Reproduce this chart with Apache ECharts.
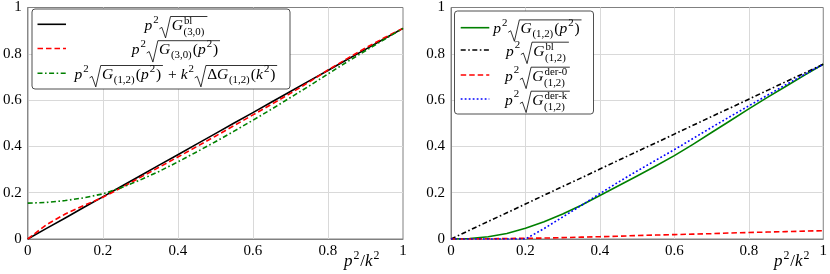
<!DOCTYPE html>
<html><head><meta charset="utf-8">
<script src="https://cdn.jsdelivr.net/npm/echarts@6/dist/echarts.min.js"></script>
<style>html,body{margin:0;padding:0;background:#fff}#c{width:830px;height:274px}</style>
</head><body><div id="c"></div>
<script>
// ---------------- data ----------------
const xs = [0,0.05,0.1,0.15,0.2,0.25,0.3,0.35,0.4,0.45,0.5,0.55,0.6,0.65,0.7,0.75,0.8,0.85,0.9,0.95,1];
const tickLabels = ['0','0.2','0.4','0.6','0.8','1'];
// left panel
const leftBl30   = [0,0.046,0.091,0.137,0.182,0.228,0.273,0.319,0.364,0.41,0.455,0.501,0.546,0.592,0.637,0.683,0.728,0.774,0.819,0.865,0.91];
const leftG30    = [0,0.062,0.108,0.145,0.18,0.222,0.266,0.31,0.354,0.399,0.444,0.49,0.536,0.582,0.629,0.678,0.73,0.778,0.825,0.869,0.91];
const leftG12Sum = [0.155,0.158,0.166,0.178,0.195,0.222,0.255,0.292,0.333,0.376,0.42,0.466,0.513,0.561,0.611,0.661,0.713,0.764,0.813,0.862,0.91];
// right panel
const rightG12   = [0,0.002,0.01,0.024,0.046,0.075,0.108,0.146,0.188,0.23,0.272,0.315,0.36,0.409,0.46,0.511,0.562,0.612,0.66,0.708,0.755];
const rightBl12  = [0,0.038,0.076,0.113,0.151,0.189,0.227,0.264,0.302,0.34,0.378,0.415,0.453,0.491,0.529,0.566,0.604,0.642,0.68,0.717,0.755];
const rightDer0  = [0,0,0.001,0.002,0.003,0.004,0.006,0.008,0.01,0.012,0.015,0.017,0.019,0.021,0.023,0.026,0.028,0.03,0.032,0.034,0.036];
const rightDerK  = [0,0,0,0,0,0.045,0.095,0.145,0.196,0.246,0.294,0.34,0.386,0.434,0.482,0.529,0.575,0.621,0.667,0.711,0.755];

// ---------------- styles ----------------
const FAM = 'Liberation Serif';
const C = {black:'#000000', red:'#ff0000', green:'#008000', blue:'#0000ff'};
const DASH = {solid:'solid', dashed:[5.5,3], dashdot:[5,2.5,1.6,2.5], dotted:[1.8,2.2]};
const LW = 1.6;

function pairs(ys){ return xs.map((x,i)=>[x, ys[i]]); }
function ser(name, ys, xi, color, dash){
  return {name, type:'line', xAxisIndex:xi, yAxisIndex:xi, data:pairs(ys), showSymbol:false, symbol:'none',
    smooth:false, lineStyle:{color, width:LW, type:dash, cap:'butt', join:'round'}, itemStyle:{color}, z:3};
}

// ---------------- math text layout ----------------
const mctx = document.createElement('canvas').getContext('2d');
function fontStr(size, it){ return (it?'italic ':'normal ') + 'normal ' + size + 'px "' + FAM + '"'; }
function tw(t, size, it){ mctx.font = fontStr(size, it); return mctx.measureText(t).width; }
function put(t, size, it, x, y, els){
  els.push({type:'text', x, y, z:22, silent:true, style:{text:t, font:fontStr(size,it), fill:'#000', align:'left', verticalAlign:'middle'}});
  return tw(t, size, it);
}
function lay(tokens, E, x, yc, els){
  for (const tk of tokens){
    if (typeof tk === 'string'){ x += put(tk, E, false, x, yc, els); }
    else if (tk.i !== undefined){ x += put(tk.i, E, true, x, yc, els) + 0.6; }
    else if (tk.sqrt){
      const cx = x + 0.8*E;
      const end = lay(tk.sqrt, E, cx, yc, els);
      const top = yc - 0.6*E, bot = yc + 0.78*E;
      els.push({type:'polyline', z:22, silent:true, shape:{points:[[x, yc+0.2*E],[x+0.16*E, yc+0.1*E],[x+0.4*E, bot],[x+0.72*E, top],[end+0.12*E, top]]},
        style:{stroke:'#000', fill:null, lineWidth:0.8}});
      x = end + 0.2*E;
    } else {
      const s = E*0.7; let w = 0;
      const both = tk.sup !== undefined && tk.sub !== undefined;
      if (tk.sup !== undefined) w = Math.max(w, put(tk.sup, s, false, x+0.4, yc - (both?0.3:0.38)*E, els));
      if (tk.sub !== undefined) w = Math.max(w, put(tk.sub, s, false, x, yc + (both?0.4:0.32)*E, els));
      x += w + 1.2;
    }
  }
  return x;
}
function mathGroup(tokens, E, px, py, align){
  const els = [];
  const w = lay(tokens, E, 0, 0, els);
  const gx = align === 'center' ? px - w/2 : px;
  return {type:'group', x:gx, y:py, children:els, z:22};
}
const P2 = [{i:'p'},{sup:'2'}];
const K2 = [{i:'k'},{sup:'2'}];
const L_left = [
  {color:C.black, dash:DASH.solid,   tex:[...P2, {sqrt:[{i:'G'},{sup:'bl', sub:'(3,0)'}]}]},
  {color:C.red,   dash:DASH.dashed,  tex:[...P2, {sqrt:[{i:'G'},{sub:'(3,0)'},'(',...P2,')']}]},
  {color:C.green, dash:DASH.dashdot, tex:[...P2, {sqrt:[{i:'G'},{sub:'(1,2)'},'(',...P2,')']}, ' + ', ...K2, {sqrt:['Δ',{i:'G'},{sub:'(1,2)'},'(',...K2,')']}]}
];
const L_right = [
  {color:C.green, dash:DASH.solid,   tex:[...P2, {sqrt:[{i:'G'},{sub:'(1,2)'},'(',...P2,')']}]},
  {color:C.black, dash:DASH.dashdot, tex:[...P2, {sqrt:[{i:'G'},{sup:'bl', sub:'(1,2)'}]}]},
  {color:C.red,   dash:DASH.dashed,  tex:[...P2, {sqrt:[{i:'G'},{sup:'der-0', sub:'(1,2)'}]}]},
  {color:C.blue,  dash:DASH.dotted,  tex:[...P2, {sqrt:[{i:'G'},{sup:'der-k', sub:'(1,2)'}]}]}
];
function legendBox(entries, box, rowsY, sx0, sx1, textCx, E){
  const ch = [{type:'rect', shape:{x:box[0], y:box[1], width:box[2], height:box[3], r:3}, style:{fill:'#fff', stroke:'#222', lineWidth:0.8}, z:19}];
  entries.forEach((e,i)=>{
    ch.push({type:'line', shape:{x1:sx0, y1:rowsY[i], x2:sx1, y2:rowsY[i]}, style:{stroke:e.color, lineWidth:LW, lineDash: e.dash==='solid'?null:e.dash}, z:21});
    ch.push(mathGroup(e.tex, E, textCx, rowsY[i]+1.5, 'center'));
  });
  return ch;
}

// ---------------- chart ----------------
const axisCol = '#808080';
const lab = {color:'#000', fontFamily:FAM, fontSize:15,
  formatter:v=>'{t|' + tickLabels[Math.round(v/0.2)] + '}',
  rich:{t:{fontFamily:FAM, fontSize:15, color:'#000'}}};
function xa(gi){ return {type:'value', gridIndex:gi, min:0, max:1, interval:0.2,
  axisLine:{show:true, lineStyle:{color:axisCol, width:1}}, axisTick:{show:false},
  axisLabel:Object.assign({margin:5}, lab),
  splitLine:{show:true, showMinLine:false, showMaxLine:false, lineStyle:{color:'#d9d9d9', width:1}}}; }
function ya(gi){ return {type:'value', gridIndex:gi, min:0, max:1, interval:0.2,
  axisLine:{show:true, lineStyle:{color:axisCol, width:1}}, axisTick:{show:false},
  axisLabel:Object.assign({margin:6}, lab),
  splitLine:{show:true, showMinLine:false, showMaxLine:false, lineStyle:{color:'#d9d9d9', width:1}}}; }

const graphic = [
  ...legendBox(L_left, [32,9,258,80], [24.3,48.5,73.3], 37.5, 66, 176.5, 15.5),
  ...legendBox(L_right, [454.5,11,139,103], [27.7,50,75,99], 460.7, 489.3, 538, 15.5),
  mathGroup([...P2,'/',...K2], 17, 344, 262, 'left'),
  mathGroup([...P2,'/',...K2], 17, 774, 262, 'left')
];

const chart = echarts.init(document.getElementById('c'), null, {renderer:'canvas'});
chart.setOption({
  animation:false,
  backgroundColor:'#fff',
  textStyle:{fontFamily:FAM},
  grid:[
    {left:27, top:7, width:376, height:232, show:true, borderColor:axisCol, borderWidth:1, backgroundColor:'transparent'},
    {left:451, top:7, width:374, height:232, show:true, borderColor:axisCol, borderWidth:1, backgroundColor:'transparent'}
  ],
  xAxis:[xa(0), xa(1)],
  yAxis:[ya(0), ya(1)],
  series:[
    ser('bl30', leftBl30, 0, C.black, DASH.solid),
    ser('G30', leftG30, 0, C.red, DASH.dashed),
    ser('G12sum', leftG12Sum, 0, C.green, DASH.dashdot),
    ser('G12', rightG12, 1, C.green, DASH.solid),
    ser('bl12', rightBl12, 1, C.black, DASH.dashdot),
    ser('der0', rightDer0, 1, C.red, DASH.dashed),
    ser('derk', rightDerK, 1, C.blue, DASH.dotted)
  ],
  graphic
});
</script></body></html>
